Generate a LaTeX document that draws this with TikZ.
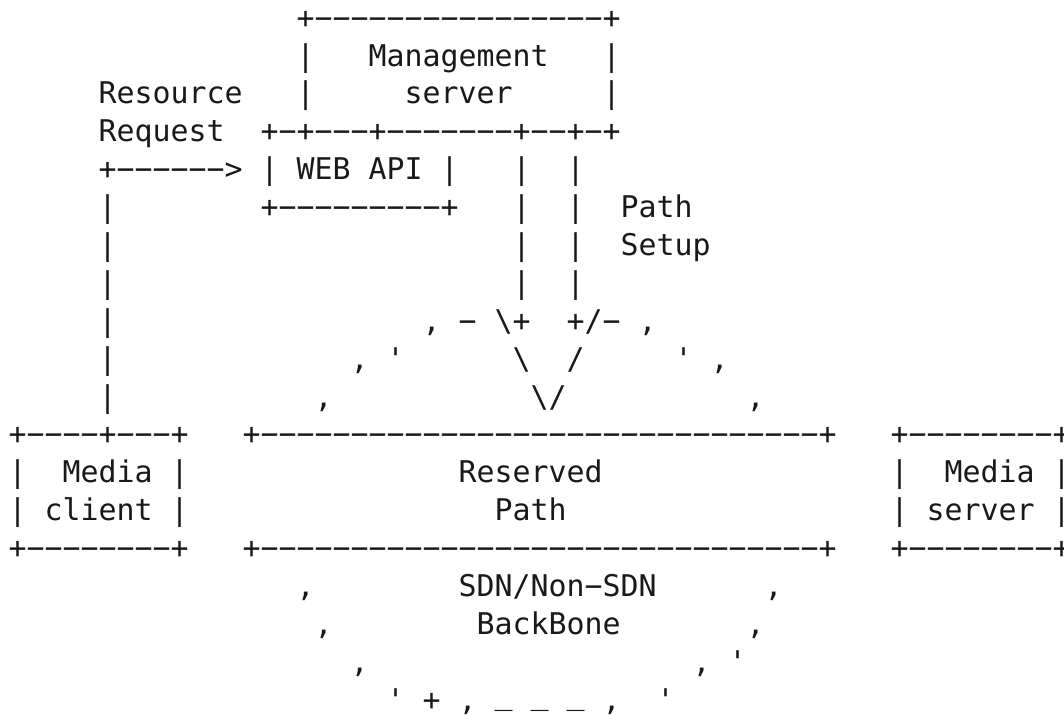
\documentclass[tikz,border=0pt]{standalone}
\usepackage{fontspec}
\newfontfamily\ascfont{DejaVu Sans Mono}
\tikzset{asc/.style={anchor=base west, inner sep=0pt, outer sep=0pt,
  font=\ascfont\fontsize{29.9}{36}\selectfont, text=black!90}}
% token at line #1, column #2
\newcommand\tk[3]{\node[asc] (L#1c#2) at ({8.7+18*#2},{-28.2-37.88*(#1-1)}) {#3};}
\newcommand\us{\raisebox{6pt}{\_}}
\begin{document}
\begin{tikzpicture}[x=1pt,y=1pt]
\useasboundingbox (0,0) rectangle (1064,-714);
% line 1
\tk{1}{16}{+−−−−−−−−−−−−−−−−+}
% line 2
\tk{2}{16}{|}\tk{2}{20}{Management}\tk{2}{33}{|}
% line 3
\tk{3}{5}{Resource}\tk{3}{16}{|}\tk{3}{22}{server}\tk{3}{33}{|}
% line 4
\tk{4}{5}{Request}\tk{4}{14}{+−+−−−+−−−−−−−+−−+−+}
% line 5
\tk{5}{5}{+−−−−−−>}\tk{5}{14}{|}\tk{5}{16}{WEB}\tk{5}{20}{API}\tk{5}{24}{|}\tk{5}{28}{|}\tk{5}{31}{|}
% line 6
\tk{6}{5}{|}\tk{6}{14}{+−−−−−−−−−+}\tk{6}{28}{|}\tk{6}{31}{|}\tk{6}{34}{Path}
% line 7
\tk{7}{5}{|}\tk{7}{28}{|}\tk{7}{31}{|}\tk{7}{34}{Setup}
% line 8
\tk{8}{5}{|}\tk{8}{28}{|}\tk{8}{31}{|}
% line 9
\tk{9}{5}{|}\tk{9}{23}{,}\tk{9}{25}{−}\tk{9}{27}{\textbackslash+}\tk{9}{31}{+/−}\tk{9}{35}{,}
% line 10
\tk{10}{5}{|}\tk{10}{19}{,}\tk{10}{21}{\textquotesingle}\tk{10}{28}{\textbackslash}\tk{10}{31}{/}\tk{10}{37}{\textquotesingle}\tk{10}{39}{,}
% line 11
\tk{11}{5}{|}\tk{11}{17}{,}\tk{11}{29}{\textbackslash/}\tk{11}{41}{,}
% line 12
\tk{12}{0}{+−−−−+−−−+}\tk{12}{13}{+−−−−−−−−−−−−−−−−−−−−−−−−−−−−−−−+}\tk{12}{49}{+−−−−−−−−+}
% line 13
\tk{13}{0}{|}\tk{13}{3}{Media}\tk{13}{9}{|}\tk{13}{25}{Reserved}\tk{13}{49}{|}\tk{13}{52}{Media}\tk{13}{58}{|}
% line 14
\tk{14}{0}{|}\tk{14}{2}{client}\tk{14}{9}{|}\tk{14}{27}{Path}\tk{14}{49}{|}\tk{14}{51}{server}\tk{14}{58}{|}
% line 15
\tk{15}{0}{+−−−−−−−−+}\tk{15}{13}{+−−−−−−−−−−−−−−−−−−−−−−−−−−−−−−−+}\tk{15}{49}{+−−−−−−−−+}
% line 16
\tk{16}{16}{,}\tk{16}{25}{SDN/Non−SDN}\tk{16}{42}{,}
% line 17
\tk{17}{17}{,}\tk{17}{26}{BackBone}\tk{17}{41}{,}
% line 18
\tk{18}{19}{,}\tk{18}{38}{,}\tk{18}{40}{\textquotesingle}
% line 19
\tk{19}{21}{\textquotesingle}\tk{19}{23}{+}\tk{19}{25}{,}\tk{19}{27}{\us}\tk{19}{29}{\us}\tk{19}{31}{\us}\tk{19}{33}{,}\tk{19}{36}{\textquotesingle}
\end{tikzpicture}
\end{document}
